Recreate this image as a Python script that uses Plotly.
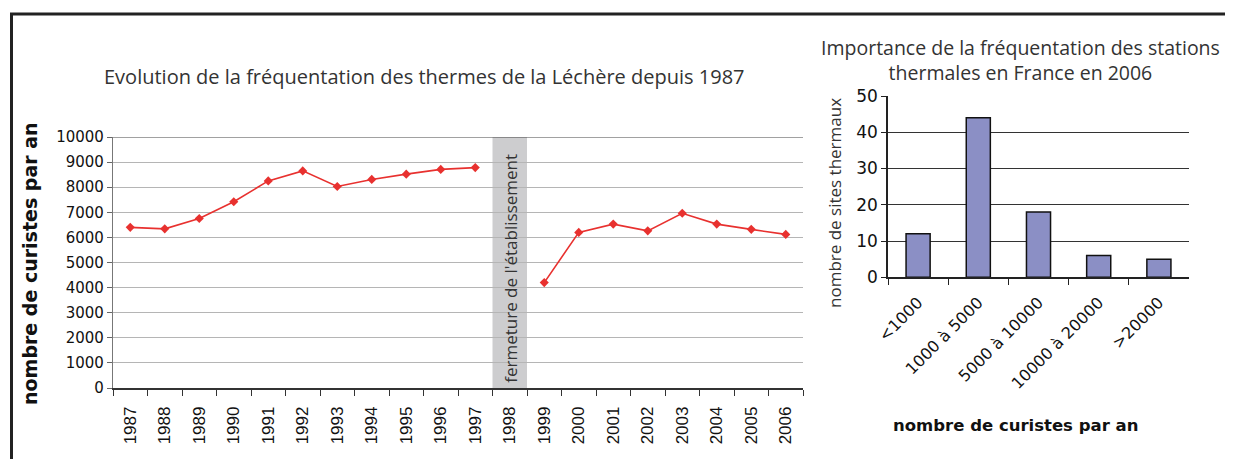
import plotly.graph_objects as go

# ---- data ----
years = [str(y) for y in range(1987, 2007)]
curistes = [6400, 6340, 6750, 7420, 8250, 8650, 8030, 8310, 8520, 8710, 8780,
            None, 4200, 6200, 6530, 6260, 6960, 6530, 6320, 6120]
closure_year = "1998"
closure_text = "fermeture de l'établissement"

classes = ["<1000", "1000 à 5000", "5000 à 10000", "10000 à 20000", ">20000"]
sites = [12, 44, 18, 6, 5]

title_left = "Evolution de la fréquentation des thermes de la Léchère depuis 1987"
title_right = "Importance de la fréquentation des stations<br>thermales en France en 2006"
ytitle_left = "nombre de curistes par an"
ytitle_right = "nombre de sites thermaux"
xtitle_right = "nombre de curistes par an"

W, H = 1233, 459
OFF = 8  # page body margin
def px(x): return (x - OFF) / W
def py(y): return 1 - (y - OFF) / H

fig = go.Figure()

fig.add_trace(go.Scatter(
    x=years, y=curistes, mode="lines+markers", connectgaps=False,
    line=dict(color="#e8312f", width=1.6),
    marker=dict(symbol="diamond", size=7, color="#e8312f"),
    xaxis="x", yaxis="y", showlegend=False,
))

fig.add_trace(go.Bar(
    x=classes, y=sites, width=0.4,
    marker=dict(color="#8b8fc5", line=dict(color="#111111", width=1.5)),
    xaxis="x2", yaxis="y2", showlegend=False,
))

ci = years.index(closure_year)
shapes = [
    dict(type="rect", xref="x", yref="y", x0=ci - 0.5, x1=ci + 0.5, y0=0, y1=10000,
         fillcolor="#cdcdcf", line=dict(width=0), layer="below"),
    dict(type="line", xref="x domain", yref="y", x0=0, x1=1, y0=10000, y1=10000,
         line=dict(color="#444", width=1.2)),
    dict(type="rect", xref="paper", yref="paper", x0=px(11.5), x1=1.1,
         y0=-0.2, y1=py(14), line=dict(color="#222", width=3)),
]

fs = "Arial, Liberation Sans, sans-serif"
dv = "DejaVu Sans, sans-serif"
title_font = "Open Sans, sans-serif"

def ann(text, x, y, size, family, color="#333", angle=0, xref="paper", yref="paper"):
    return dict(text=text, x=x, y=y, xref=xref, yref=yref, xanchor="center",
                yanchor="middle", textangle=angle, showarrow=False,
                font=dict(family=family, size=size, color=color))

annotations = [
    ann(title_left, px(425), py(76), 20, title_font),
    ann(title_right, px(1020), py(60), 19.5, title_font),
    ann(closure_text, ci, 4780, 17, title_font, angle=-90, xref="x", yref="y"),
    ann("<b>" + ytitle_left + "</b>", px(30), py(264), 19, dv, color="#111", angle=-90),
    ann(ytitle_right, px(834), py(203), 17, title_font, angle=-90),
    ann("<b>" + xtitle_right + "</b>", px(1015), py(425), 16.5, dv, color="#111"),
]

fig.update_layout(
    width=W, height=H, margin=dict(l=0, r=0, t=0, b=0),
    paper_bgcolor="white", plot_bgcolor="white",
    font=dict(family=fs, size=14, color="#111"),
    shapes=shapes, annotations=annotations,
    xaxis=dict(domain=[px(113), px(803)], type="category", tickangle=-90,
               tickson="boundaries", ticks="outside", ticklen=6, tickcolor="#333",
               showline=True, linecolor="#333", linewidth=1.5, showgrid=False,
               automargin=False, ticklabelstandoff=10,
               tickfont=dict(family=fs, size=17), range=[-0.5, len(years) - 0.5]),
    yaxis=dict(domain=[py(388), py(137)], range=[0, 10000], dtick=1000, tickformat="d",
               ticks="outside", ticklen=5, tickcolor="#666", showline=True,
               linecolor="#777", linewidth=1.2, gridcolor="#b5b5b5", gridwidth=1,
               zeroline=False, automargin=False, tickfont=dict(family=dv, size=15)),
    xaxis2=dict(domain=[px(888), px(1189)], anchor="y2", type="category", tickangle=-45,
                tickson="boundaries", ticks="outside", ticklen=6, tickcolor="#222",
                showline=True, linecolor="#222", linewidth=1.5, showgrid=False,
                automargin=False, ticklabelstandoff=8, tickfont=dict(family=dv, size=16)),
    yaxis2=dict(domain=[py(277.3), py(96)], anchor="x2", range=[0, 50], dtick=10,
                ticks="outside", ticklen=5, tickcolor="#222", showline=True,
                linecolor="#222", linewidth=1.5, gridcolor="#333", gridwidth=1,
                zeroline=False, automargin=False, tickfont=dict(family=dv, size=17)),
)

fig.write_html("out.html")
